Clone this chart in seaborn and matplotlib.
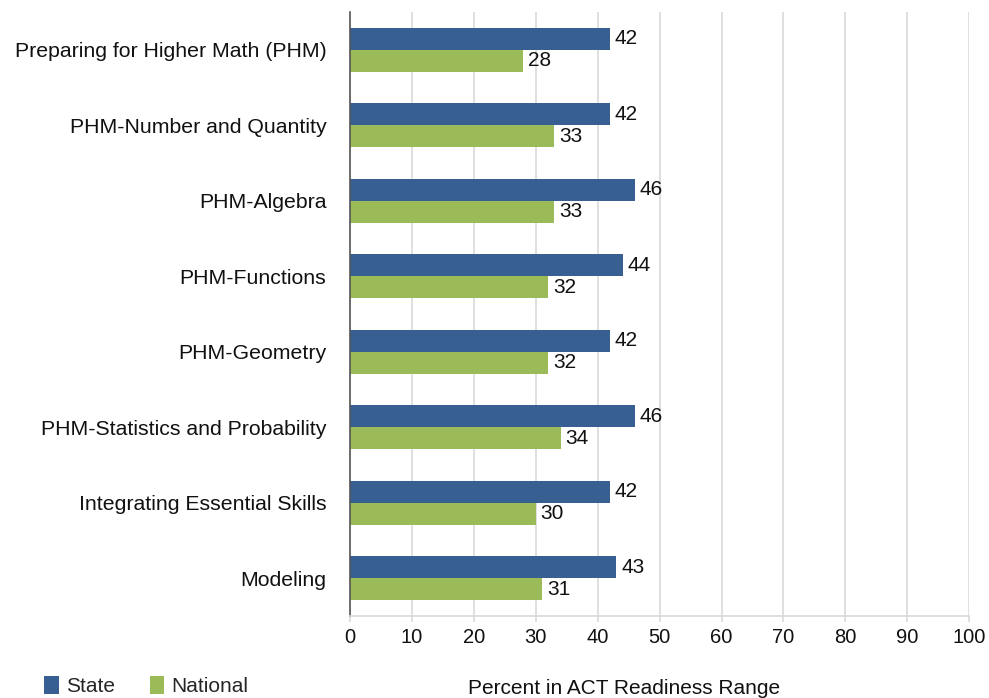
import matplotlib
matplotlib.use("Agg")
import matplotlib.pyplot as plt
import seaborn as sns
import pandas as pd
from matplotlib.patches import Patch

categories = [
    "Preparing for Higher Math (PHM)",
    "PHM-Number and Quantity",
    "PHM-Algebra",
    "PHM-Functions",
    "PHM-Geometry",
    "PHM-Statistics and Probability",
    "Integrating Essential Skills",
    "Modeling",
]
state = [42, 42, 46, 44, 42, 46, 42, 43]
national = [28, 33, 33, 32, 32, 34, 30, 31]
series = ["State", "National"]
xticks = [0, 10, 20, 30, 40, 50, 60, 70, 80, 90, 100]

df = pd.DataFrame({
    "Category": categories * 2,
    "Series": ["State"] * len(categories) + ["National"] * len(categories),
    "Value": state + national,
})

sns.set_theme(style="white")
plt.rcParams["font.family"] = ["Liberation Sans", "DejaVu Sans"]

colors = {"State": "#375F91", "National": "#9BBB59"}
FS = 14.5

fig = plt.figure(figsize=(9.89, 6.98), dpi=100)
ax = fig.add_axes([0.354, 0.1175, 0.626, 0.8655])

sns.barplot(data=df, y="Category", x="Value", hue="Series", order=categories,
            hue_order=series, palette=colors, width=0.58, orient="h",
            saturation=1, ax=ax, legend=False, linewidth=0)

for cont in ax.containers:
    ax.bar_label(cont, fmt="%d", padding=3.5, fontsize=15, color="#111111")

ax.set_xlim(0, 100)
ax.set_xticks(xticks)
ax.set_xticklabels([str(t) for t in xticks])
ax.set_ylim(len(categories) - 0.5, -0.5)
ax.set_xlabel("")
ax.set_ylabel("")
ax.grid(axis="x", color="#D9D9D9", linewidth=1.2)
ax.set_axisbelow(True)

for s in ["top", "right"]:
    ax.spines[s].set_visible(False)
ax.spines["left"].set_color("#555555")
ax.spines["left"].set_linewidth(1.2)
ax.spines["bottom"].set_color("#D9D9D9")
ax.spines["bottom"].set_linewidth(1.2)

ax.tick_params(axis="x", labelsize=FS, colors="#D9D9D9", labelcolor="#111111",
               length=4, width=1.2, pad=5, bottom=True)
ax.tick_params(axis="y", labelsize=15.3, direction="in", length=5, width=1,
               colors="#555555", labelcolor="#111111", pad=17, left=True)

handles = [Patch(facecolor=colors[s], edgecolor="none", label=s) for s in series]
fig.legend(handles=handles, loc="lower left", bbox_to_anchor=(0.026, -0.024),
           ncol=2, frameon=False, fontsize=15, handlelength=0.7, handleheight=1.0,
           handletextpad=0.35, columnspacing=1.65)

fig.text(0.631, 0.0, "Percent in ACT Readiness Range", ha="center", va="bottom",
         fontsize=15, color="#111111")

fig.savefig("out.png", dpi=100)
